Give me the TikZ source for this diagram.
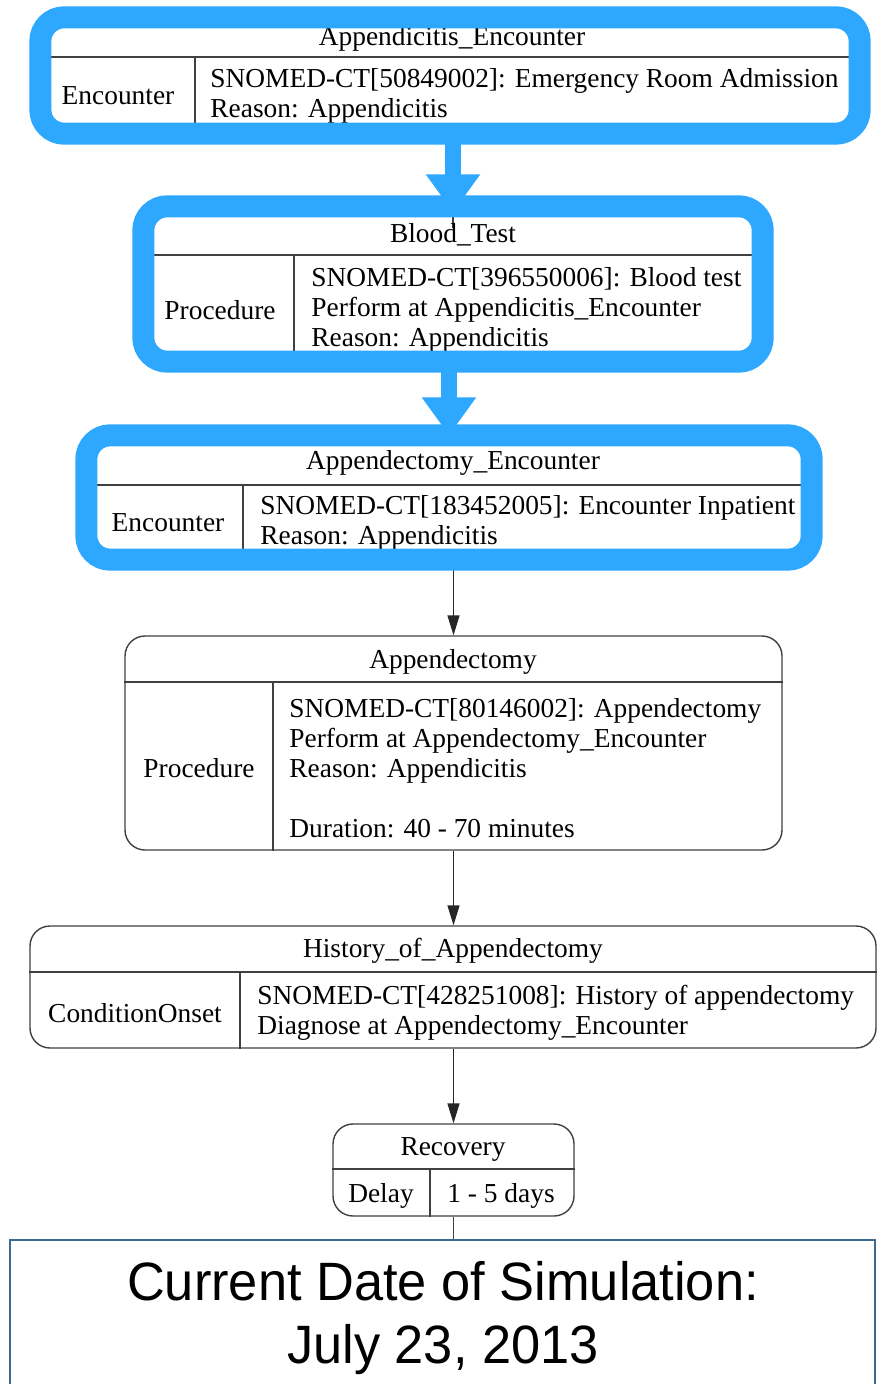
\documentclass[tikz,border=0pt]{standalone}
\usepackage{fontspec}
\setmainfont{Liberation Serif}
\newfontfamily\datefont[FakeStretch=0.97]{Liberation Sans}
\usetikzlibrary{arrows.meta, positioning, fit}
\definecolor{hlblue}{RGB}{46,168,255}
\definecolor{frameblue}{RGB}{62,106,143}
\tikzset{
  rec/.style={draw=black!75, line width=0.7pt, rounded corners=10pt, inner sep=0pt},
  sep/.style={draw=black!75, line width=0.7pt},
  hl/.style={draw=hlblue, line width=11pt, rounded corners=12pt},
  ttl/.style={font=\fontsize{13.7}{15}\selectfont, inner sep=0pt},
  lin/.style={ttl, anchor=west, align=left},
  tra/.style={-{Triangle[length=10pt, width=6pt]}, draw=black!85, line width=0.7pt},
  hla/.style={-{Triangle[length=19pt, width=26pt]}, draw=hlblue, line width=8pt}
}
\begin{document}
\begin{tikzpicture}[x=0.5pt, y=-0.5pt]
	\useasboundingbox (0,0) rectangle (877,1384);
	% the six boxes
	\node[rec, fit={(41,18) (859,133)}] (ae) {};
	\node[rec, fit={(144,207) (762,361)}] (bt) {};
	\node[rec, fit={(87,436) (811,559)}] (de) {};
	\node[rec, fit={(125,636) (782,850)}] (ap) {};
	\node[rec, fit={(30,926) (876,1048)}] (ha) {};
	\node[rec, fit={(333,1124) (574,1216)}] (rc) {};
	% header and column lines
	\foreach \b/\h/\c in {ae/57/195, bt/255/294, de/485/243, ap/682/273, ha/972/240, rc/1169/430} {
		\draw[sep] (\b.west |- 0,\h) -- (\b.east |- 0,\h);
		\draw[sep] (\c,\h) -- (\c,\h |- \b.south);
	}
	% edges
	\draw[sep] (ae.south -| bt.north) -- ([yshift=-11pt]bt.north);
	\draw[tra] (bt.south -| de.north) -- ([yshift=6pt]de.north);
	\draw[tra] (de.south -| ap.north) -- (ap.north);
	\draw[tra] (ap.south) -- (ap.south |- ha.north);
	\draw[tra] (ha.south -| rc.north) -- (rc.north);
	% Appendicitis_Encounter
	\node[ttl] (aet) at (452,39) {Appendicitis\_Encounter};
	\node[ttl] (aek) at (118,96) {Encounter};
	\node[lin] (aed) at (210,96) {SNOMED-CT[50849002]: Emergency Room Admission\\Reason: Appendicitis};
	% Blood_Test
	\node[ttl] (btt) at (453,235) {Blood\_Test};
	\node[ttl] (btk) at (220,310) {Procedure};
	\node[lin] (btd) at (311,310) {SNOMED-CT[396550006]: Blood test\\Perform at Appendicitis\_Encounter\\Reason: Appendicitis};
	% Appendectomy_Encounter
	\node[ttl] (det) at (453,463) {Appendectomy\_Encounter};
	\node[ttl] (dek) at (168,523) {Encounter};
	\node[lin] (ded) at (260,523) {SNOMED-CT[183452005]: Encounter Inpatient\\Reason: Appendicitis};
	% Appendectomy
	\node[ttl] (apt) at (453,662) {Appendectomy};
	\node[ttl] (apk) at (199,768) {Procedure};
	\node[lin] (apd) at (289,768) {SNOMED-CT[80146002]: Appendectomy\\Perform at Appendectomy\_Encounter\\Reason: Appendicitis\\\mbox{}\\Duration: 40 - 70 minutes};
	% History_of_Appendectomy
	\node[ttl] (hat) at (453,951) {History\_of\_Appendectomy};
	\node[ttl] (hak) at (135,1013) {ConditionOnset};
	\node[lin] (had) at (257,1013) {SNOMED-CT[428251008]: History of appendectomy\\Diagnose at Appendectomy\_Encounter};
	% Recovery
	\node[ttl] (rct) at (453,1149) {Recovery};
	\node[ttl] (rck) at (381,1196) {Delay};
	\node[ttl] (rcd) at (501,1196) {1 - 5 days};
	% highlighted path
	\foreach \b in {ae, bt, de} \draw[hl] (\b.south west) rectangle (\b.north east);
	\draw[hla] (ae.south -| bt.north) -- ([yshift=-3pt]bt.north);
	\draw[hla] (bt.south -| de.north) -- (de.north);
	% simulation date
	\node[draw=frameblue, fill=white, line width=1pt, inner sep=0pt, fit={(10,1240) (875,1400)}] (cd) {};
	\draw[sep] (rc.south) -- (rc.south |- cd.north);
	\node[font=\datefont\fontsize{27}{31.5}\selectfont, align=center, inner sep=0pt] (cdt) at (443,1318) {Current Date of Simulation:\\July 23, 2013};
\end{tikzpicture}
\end{document}
